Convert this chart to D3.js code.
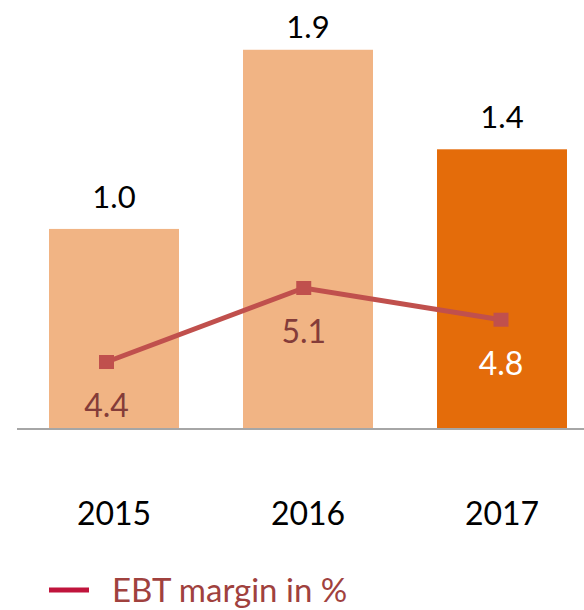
<!DOCTYPE html>
<html>
<head>
<meta charset="utf-8">
<script src="https://cdn.jsdelivr.net/npm/d3@7"></script>
<style>
  html, body { margin: 0; padding: 0; background: #fff; }
  svg { display: block; font-family: Lato, "Open Sans", sans-serif; }
</style>
</head>
<body>
<svg id="chart" width="584" height="610"></svg>
<script>
// EBT per year (bars) and EBT margin in % (line)
const years = ['2015', '2016', '2017'];
const ebt = [1.0, 1.9, 1.4];
const margin = [4.4, 5.1, 4.8];
const legendLabel = 'EBT margin in %';

const svg = d3.select('#chart');
const baseY = 428;

const x = d3.scaleBand().domain(years).range([17, 599])
  .paddingInner(0.33).paddingOuter(0.165);
const y = d3.scaleLinear().domain([0, 2.15]).range([baseY, 0]);
// line series sits on its own (hidden) secondary axis
const xLine = d3.scalePoint().domain(years).range([106.5, 501]);
const y2 = d3.scaleLinear().domain([4, 5.5]).range([404.3, 245.7]);

const barColor = (d, i) => i === years.length - 1 ? '#e46c0a' : '#f1b484';

// bars
svg.append('g').selectAll('rect')
  .data(years)
  .join('rect')
  .attr('x', d => x(d))
  .attr('width', x.bandwidth())
  .attr('y', (d, i) => y(ebt[i]))
  .attr('height', (d, i) => baseY - y(ebt[i]))
  .attr('fill', barColor);

// bar value labels (kept inside the top edge)
svg.append('g').selectAll('text')
  .data(years)
  .join('text')
  .attr('x', d => x(d) + x.bandwidth() / 2)
  .attr('y', (d, i) => Math.max(38, y(ebt[i]) - 21))
  .attr('text-anchor', 'middle')
  .attr('font-size', 31)
  .attr('fill', '#000')
  .text((d, i) => ebt[i].toFixed(1));

// baseline
svg.append('line')
  .attr('x1', 17).attr('x2', 584)
  .attr('y1', baseY + 1).attr('y2', baseY + 1)
  .attr('stroke', '#a6a6a6')
  .attr('stroke-width', 2);

// x axis labels
svg.append('g').selectAll('text')
  .data(years)
  .join('text')
  .attr('x', d => x(d) + x.bandwidth() / 2)
  .attr('y', 525)
  .attr('text-anchor', 'middle')
  .attr('font-size', 32)
  .attr('fill', '#000')
  .text(d => d);

// margin line
const lineGen = d3.line()
  .x(d => xLine(d))
  .y((d, i) => y2(margin[i]));

svg.append('path')
  .datum(years)
  .attr('d', lineGen)
  .attr('fill', 'none')
  .attr('stroke', '#c0504d')
  .attr('stroke-width', 5);

svg.append('g').selectAll('rect')
  .data(years)
  .join('rect')
  .attr('x', d => xLine(d) - 7.5)
  .attr('y', (d, i) => y2(margin[i]) - 7)
  .attr('width', 15)
  .attr('height', 14)
  .attr('fill', '#c0504d');

// margin labels (white on the dark bar)
svg.append('g').selectAll('text')
  .data(years)
  .join('text')
  .attr('x', d => xLine(d))
  .attr('y', (d, i) => y2(margin[i]) + 55)
  .attr('text-anchor', 'middle')
  .attr('font-size', 32)
  .attr('fill', (d, i) => i === years.length - 1 ? '#ffffff' : '#843c39')
  .text((d, i) => margin[i].toFixed(1));

// legend
const legend = svg.append('g');
legend.append('line')
  .attr('x1', 49).attr('x2', 89)
  .attr('y1', 590).attr('y2', 590)
  .attr('stroke', '#c0143c')
  .attr('stroke-width', 5);
legend.append('text')
  .attr('x', 112)
  .attr('y', 602)
  .attr('font-size', 33)
  .attr('fill', '#a0413e')
  .text(legendLabel);
</script>
</body>
</html>
